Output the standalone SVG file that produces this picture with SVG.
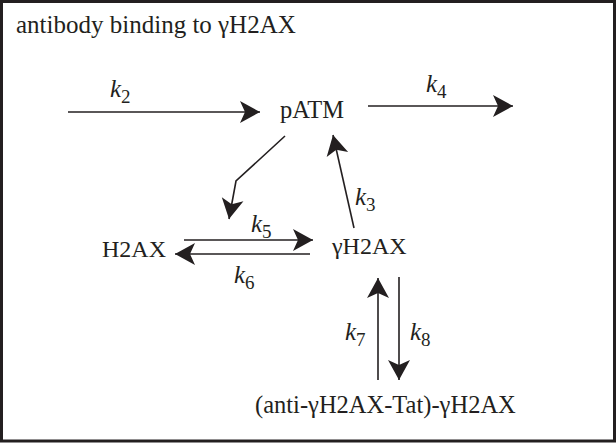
<svg xmlns="http://www.w3.org/2000/svg" width="616" height="443" viewBox="0 0 616 443">
<style>
text{font-family:"Liberation Serif","Times New Roman",serif;fill:#231f20}
.lbl{font-size:24px}
.k{font-size:25px;font-style:italic}
.sub{font-size:19px;font-style:normal}
.c{fill:none;stroke:#231f20;stroke-width:1.6}
</style>
<defs>
<marker id="ah" markerUnits="userSpaceOnUse" markerWidth="30" markerHeight="26" viewBox="-22 -13 24 26" refX="0" refY="0" orient="auto">
<path d="M0,0 L-20,-11 L-15,0 L-20,11 Z" fill="#231f20"/>
</marker>
</defs>
<rect x="1.5" y="1.5" width="613" height="439.5" fill="#fff" stroke="#231f20" stroke-width="3"/>
<text class="lbl" x="16" y="33" style="font-size:25px">antibody binding to γH2AX</text>
<g id="pATM"><text class="lbl" x="280" y="118" style="font-size:24.5px">pATM</text></g>
<g id="H2AX"><text class="lbl" x="102" y="257">H2AX</text></g>
<g id="gH2AX"><text class="lbl" x="332" y="254">γH2AX</text></g>
<g id="complex"><text class="lbl" x="255" y="413" style="font-size:24.5px">(anti-γH2AX-Tat)-γH2AX</text></g>
<g id="connectors">
<line class="c" x1="68" y1="112" x2="260" y2="112" marker-end="url(#ah)"/>
<line class="c" x1="368" y1="106" x2="513" y2="106" marker-end="url(#ah)"/>
<polyline class="c" points="285,136 236,181 229,219" marker-end="url(#ah)"/>
<line class="c" x1="354" y1="228" x2="333" y2="135" marker-end="url(#ah)"/>
<line class="c" x1="184" y1="240" x2="313" y2="240" marker-end="url(#ah)"/>
<line class="c" x1="310" y1="254" x2="175" y2="254" marker-end="url(#ah)"/>
<line class="c" x1="378" y1="380" x2="378" y2="278" marker-end="url(#ah)"/>
<line class="c" x1="399" y1="277" x2="399" y2="380" marker-end="url(#ah)"/>
<text class="k" x="110" y="97">k<tspan class="sub" dy="6">2</tspan></text>
<text class="k" x="426" y="92">k<tspan class="sub" dy="6">4</tspan></text>
<text class="k" x="355" y="205">k<tspan class="sub" dy="6">3</tspan></text>
<text class="k" x="251" y="232">k<tspan class="sub" dy="6">5</tspan></text>
<text class="k" x="234" y="283">k<tspan class="sub" dy="6">6</tspan></text>
<text class="k" x="345" y="340">k<tspan class="sub" dy="6">7</tspan></text>
<text class="k" x="410" y="340">k<tspan class="sub" dy="6">8</tspan></text>
</g>
</svg>
